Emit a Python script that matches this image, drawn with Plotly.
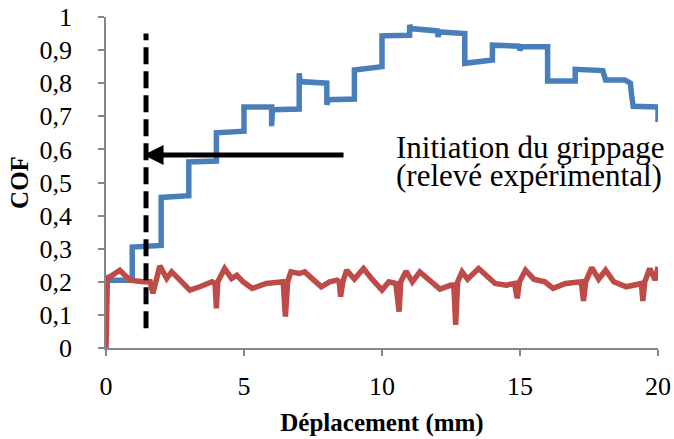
import plotly.graph_objects as go

# Data
blue_x = [0, 0.05, 0.95, 0.95, 2.0, 2.0, 3.0, 3.0, 4.0, 4.0, 5.0, 5.0, 6.0, 6.0, 6.03,
          7.0, 7.0, 7.03, 8.0, 8.0, 8.05, 9.0, 9.0, 10.0, 10.0, 11.0, 11.0, 11.05,
          12.0, 12.03, 12.08, 13.0, 13.0, 14.0, 14.0, 14.95, 15.0, 15.05, 16.0, 16.0,
          17.0, 17.0, 18.0, 18.05, 18.1, 18.8, 19.0, 19.05, 19.1, 20.0, 20.0]
blue_y = [0.22, 0.205, 0.205, 0.305, 0.31, 0.455, 0.46, 0.562, 0.565, 0.65, 0.655, 0.728, 0.728, 0.67, 0.72,
          0.722, 0.83, 0.805, 0.80, 0.735, 0.75, 0.752, 0.84, 0.85, 0.943, 0.945, 0.976, 0.965,
          0.958, 0.94, 0.955, 0.95, 0.86, 0.87, 0.915, 0.912, 0.90, 0.91, 0.91, 0.807,
          0.807, 0.842, 0.838, 0.815, 0.81, 0.81, 0.80, 0.76, 0.73, 0.728, 0.683]

red_x = [0, 0.05, 0.5, 0.87, 1.35, 1.6, 1.7, 1.8, 1.95, 2.2, 2.38, 2.68, 3.04, 3.4, 3.84, 3.95, 4.0, 4.05,
         4.3, 4.55, 4.74, 4.97, 5.3, 5.8, 6.2, 6.42, 6.5, 6.58, 6.7, 7.0, 7.2, 7.57, 7.8, 8.1, 8.37,
         8.45, 8.5, 8.58, 8.72, 9.0, 9.33, 9.64, 10.0, 10.25, 10.5, 10.62, 10.68, 10.87, 11.1, 11.37,
         11.74, 12.1, 12.5, 12.6, 12.67, 12.74, 12.9, 13.1, 13.5, 13.8, 14.1, 14.5, 14.8, 14.9,
         14.98, 15.2, 15.5, 15.9, 16.2, 16.65, 17.1, 17.22, 17.3, 17.38, 17.6, 17.85, 18.1,
         18.4, 18.85, 19.3, 19.4, 19.45, 19.52, 19.7, 19.9, 20.0]
red_y = [0.0, 0.21, 0.235, 0.205, 0.2, 0.2, 0.165, 0.2, 0.248, 0.21, 0.23, 0.205, 0.175, 0.185, 0.2, 0.195, 0.12, 0.2,
         0.24, 0.21, 0.22, 0.2, 0.18, 0.195, 0.2, 0.2, 0.095, 0.2, 0.23, 0.225, 0.23, 0.2, 0.185, 0.2, 0.205,
         0.2, 0.155, 0.2, 0.235, 0.208, 0.24, 0.208, 0.175, 0.2, 0.195, 0.11, 0.2, 0.232, 0.2, 0.23,
         0.205, 0.178, 0.19, 0.19, 0.07, 0.2, 0.23, 0.208, 0.24, 0.215, 0.195, 0.19, 0.195, 0.15,
         0.2, 0.235, 0.208, 0.2, 0.18, 0.195, 0.2, 0.2, 0.142, 0.2, 0.243, 0.208, 0.235,
         0.2, 0.185, 0.195, 0.195, 0.142, 0.2, 0.24, 0.205, 0.245]

x_ticks = [0, 5, 10, 15, 20]
y_ticks = [0, 0.1, 0.2, 0.3, 0.4, 0.5, 0.6, 0.7, 0.8, 0.9, 1]

# Annotation positions (data coordinates)
grip_x = 1.45
grip_y0, grip_y1 = 0.06, 0.95
arrow_tail = (8.66, 0.583)
arrow_tip_x = 1.36
label_lines = ["Initiation du grippage", "(relevé expérimental)"]
label_x = 10.45
label_y = [0.605, 0.52]

serif = "Liberation Serif"

fig = go.Figure()

fig.add_trace(go.Scatter(
    x=blue_x, y=blue_y, mode='lines',
    line=dict(color="#4A7EBB", width=5.5),
    showlegend=False
))
fig.add_trace(go.Scatter(
    x=red_x, y=red_y, mode='lines',
    line=dict(color="#BE4B48", width=5.5),
    showlegend=False
))

# Dashed vertical marker
fig.add_trace(go.Scatter(
    x=[grip_x, grip_x], y=[grip_y0, grip_y1], mode='lines',
    line=dict(color="black", width=5, dash="17px,7px"),
    showlegend=False
))

# Arrow
fig.add_annotation(
    x=arrow_tip_x, y=arrow_tail[1], ax=arrow_tail[0], ay=arrow_tail[1],
    xref="x", yref="y", axref="x", ayref="y",
    text="", showarrow=True, arrowhead=2, arrowsize=0.8, arrowwidth=5,
    arrowcolor="black"
)

for txt, ly in zip(label_lines, label_y):
    fig.add_annotation(
        x=label_x, y=ly, xref="x", yref="y",
        xanchor="left", yanchor="middle",
        text=txt, showarrow=False,
        font=dict(family=serif, size=31, color="black")
    )

fig.update_layout(
    width=674, height=439,
    margin=dict(l=106, r=16, t=17, b=91),
    plot_bgcolor="white", paper_bgcolor="white",
    separators=", ",
    font=dict(family=serif, color="black"),
    xaxis=dict(
        range=[0, 20], tickvals=x_ticks, showgrid=False, zeroline=False,
        automargin=False, ticklabeloverflow="allow",
        showline=True, linecolor="#868686", linewidth=1.5,
        ticks="outside", ticklen=6, tickcolor="#868686", tickwidth=1.5,
        ticklabelstandoff=8,
        tickfont=dict(family=serif, size=26, color="black"),
        title=dict(text="<b>Déplacement (mm)</b>", standoff=14,
                   font=dict(family=serif, size=25, color="black"))
    ),
    yaxis=dict(
        range=[0, 1], tickvals=y_ticks, showgrid=False, zeroline=False,
        automargin=False, ticklabeloverflow="allow",
        showline=True, linecolor="#868686", linewidth=1.5,
        ticks="outside", ticklen=6, tickcolor="#868686", tickwidth=1.5,
        ticklabelstandoff=21,
        tickfont=dict(family=serif, size=26, color="black"),
        title=dict(text="<b>COF</b>", standoff=4,
                   font=dict(family=serif, size=25, color="black"))
    )
)

# drop the page's default body margin so the figure fills the window
fig.write_html(
    "out.html",
    config={"displayModeBar": False},
    post_script="document.body.style.margin='0';document.body.style.overflow='hidden';"
)
